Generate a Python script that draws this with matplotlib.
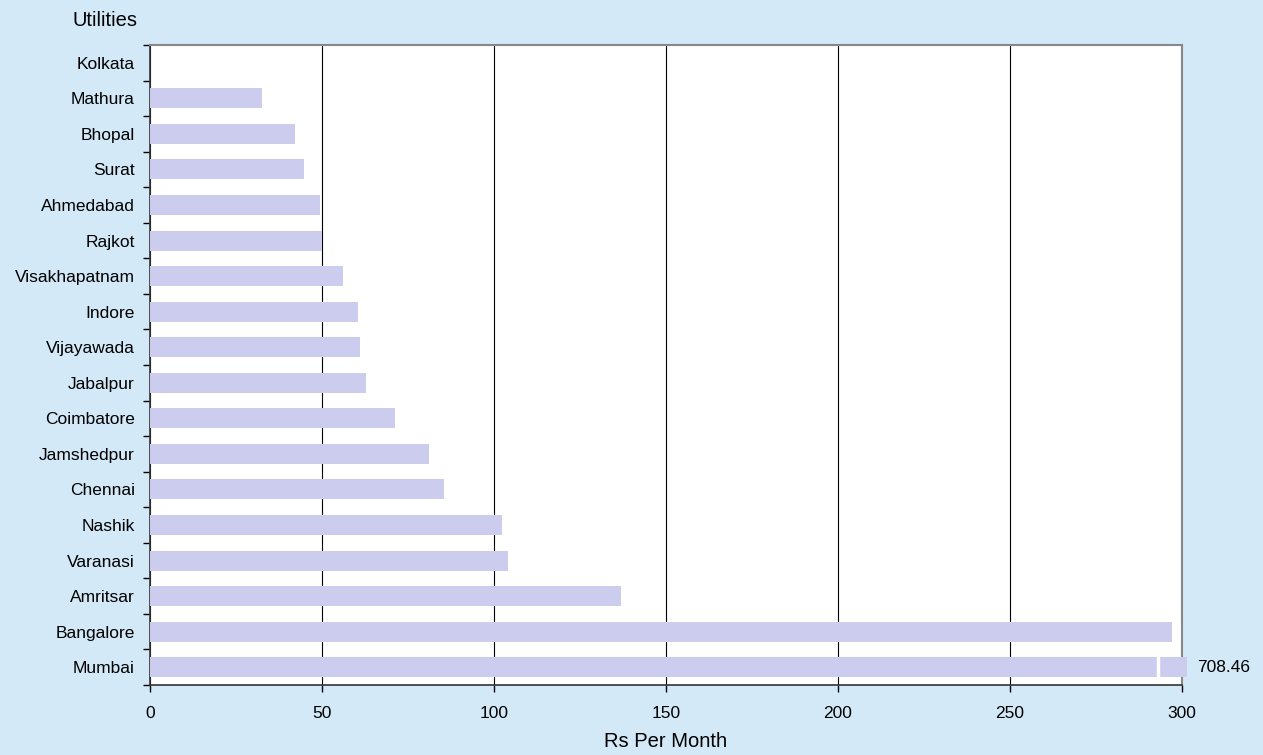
import numpy as np
import matplotlib.pyplot as plt

plt.rcParams['font.family'] = ['Liberation Sans', 'DejaVu Sans']

# --- dati (dal basso verso l'alto) ---
cities = ['Mumbai', 'Bangalore', 'Amritsar', 'Varanasi', 'Nashik', 'Chennai',
          'Jamshedpur', 'Coimbatore', 'Jabalpur', 'Vijayawada', 'Indore',
          'Visakhapatnam', 'Rajkot', 'Ahmedabad', 'Surat', 'Bhopal', 'Mathura',
          'Kolkata']
values = [708.46, 297.0, 137.0, 104.0, 102.2, 85.5, 81.1, 71.2, 62.8, 61.0,
          60.5, 56.1, 50.0, 49.5, 44.8, 42.2, 32.6, 0.0]
xticks = [0, 50, 100, 150, 200, 250, 300]

bg = '#D3E9F8'
bar_col = '#CCCCEE'
xmax = 300

fig = plt.figure(figsize=(12.63, 7.55), dpi=100, facecolor=bg)
ax = fig.add_axes([150/1263, 70/755, 1032/1263, 640/755])
ax.set_facecolor('white')

y = np.arange(len(cities))
shown = [min(v, xmax + 1.5) for v in values]
bars = ax.barh(y, shown, height=0.56, color=bar_col, zorder=3)
for b, v in zip(bars, values):
    if v > xmax:
        b.set_clip_on(False)
        # interruzione della barra fuori scala
        ax.plot([xmax - 7, xmax - 7], [b.get_y(), b.get_y() + b.get_height()],
                color='white', lw=2.5, zorder=4, clip_on=False)
        ax.text(xmax + 4.5, b.get_y() + b.get_height() / 2, f'{v:.2f}',
                va='center', ha='left', fontsize=12.5)

ax.set_xlim(0, xmax)
ax.set_ylim(-0.5, len(cities) - 0.5)
ax.set_xticks(xticks)
ax.set_xticklabels([str(t) for t in xticks], fontsize=12.5)
ax.set_yticks(y)
ax.set_yticklabels(cities, fontsize=12.5)
ax.tick_params(axis='y', length=0, pad=11)
ax.set_yticks(np.arange(-0.5, len(cities)), minor=True)
ax.tick_params(axis='y', which='minor', length=5, width=1, direction='out')
ax.tick_params(axis='x', length=5, width=1, direction='out', pad=10)

ax.grid(axis='x', color='black', lw=0.8, zorder=1)
for s in ['top', 'right']:
    ax.spines[s].set_color('#888888')
    ax.spines[s].set_linewidth(1.5)
for s in ['left', 'bottom']:
    ax.spines[s].set_color('#333333')
    ax.spines[s].set_linewidth(1.2)

ax.set_xlabel('Rs Per Month', fontsize=14.5, labelpad=8)
fig.text(73/1263, 1 - 20/755, 'Utilities', fontsize=14.5, va='center', ha='left')

fig.savefig('out.png', dpi=100, facecolor=bg)
